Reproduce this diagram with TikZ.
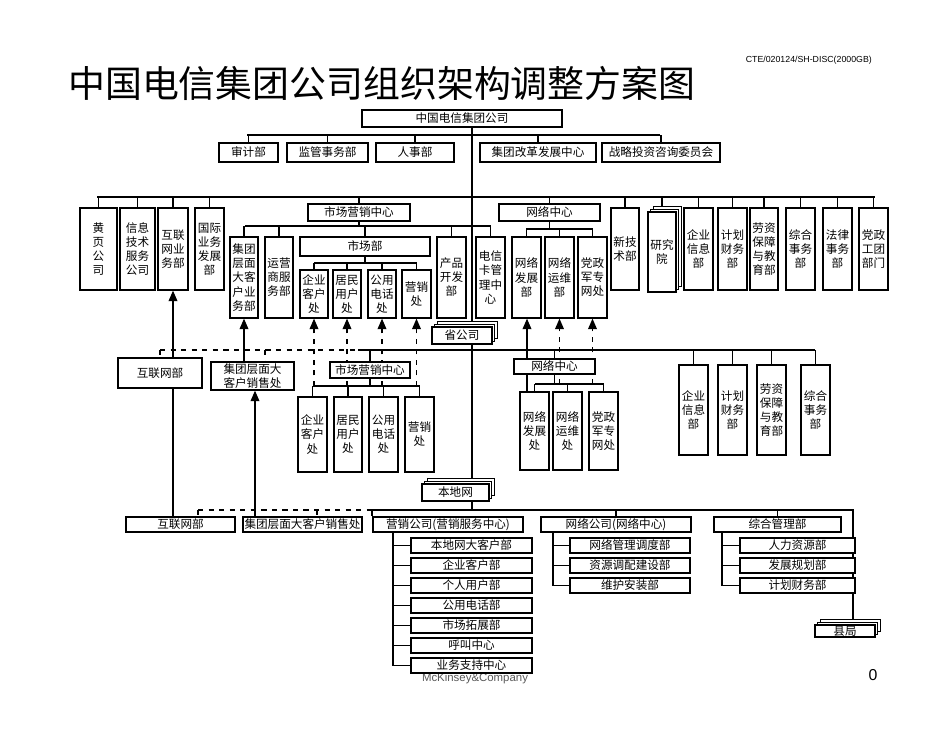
\documentclass[tikz,border=0pt]{standalone}
\usepackage{fontspec}
\setmainfont{Noto Sans CJK SC}
\newfontfamily\latinfont{Liberation Sans}
\usetikzlibrary{arrows.meta,shadows,backgrounds}

\tikzset{
  box/.style={draw,line width=0.7pt,fill=white,inner sep=0pt,align=center,
    font=\fontsize{6.6}{8}\selectfont},
  stack/.style={box,double copy shadow={shadow xshift=1.5pt,shadow yshift=1.5pt}},
  link/.style={line width=0.7pt},
  dlink/.style={line width=0.7pt,dashed},
  up/.style={line width=0.7pt,-{Triangle[length=6pt,width=5pt]}},
  dup/.style={up,dashed},
}
% box from its corners (x1,y1) to (x2,y2), in pixels of the reference
\newcommand{\bx}[7][box]{\node (#2) [#1,minimum width={((#5)-(#3))*0.02cm},minimum height={((#6)-(#4))*0.02cm}]
  at ({((#3)+(#5))/2},{((#4)+(#6))/2}) {#7};}

\begin{document}
\begin{tikzpicture}[x=0.02cm,y=-0.02cm]
\useasboundingbox (0,0) rectangle (950,735);

\node (title) [anchor=west,font=\fontsize{21}{24}\selectfont] at (62,83) {中国电信集团公司组织架构调整方案图};
\node (code) [anchor=east,font=\latinfont\fontsize{5}{6}\selectfont] at (878,60) {CTE/020124/SH-DISC(2000GB)};
\node (page) [font=\latinfont\fontsize{9}{10}\selectfont] at (873,675) {0};
\node (mck) [font=\fontsize{6.5}{7}\selectfont\latinfont,text=gray!70!black] at (475,679) {McKinsey\&Company};

% head office
\bx{jt}{362}{110}{562}{127}{中国电信集团公司}
\bx{sj}{219}{143}{278}{162}{审计部}
\bx{jg}{287}{143}{368}{162}{监管事务部}
\bx{rs}{376}{143}{454}{162}{人事部}
\bx{gg}{480}{143}{596}{162}{集团改革发展中心}
\bx{zl}{602}{143}{720}{162}{战略投资咨询委员会}

\bx{hy}{80}{208}{117}{290}{黄\\页\\公\\司}
\bx{xx}{120}{208}{155}{290}{信息\\技术\\服务\\公司}
\bx{hl}{158}{208}{188}{290}{互联\\网业\\务部}
\bx{gj}{195}{208}{224}{290}{国际\\业务\\发展\\部}

\bx{yx}{308}{204}{410}{221}{市场营销中心}
\bx{dk}{230}{237}{258}{318}{集团\\层面\\大客\\户业\\务部}
\bx{yy}{265}{237}{293}{318}{运营\\商服\\务部}
\bx{sc}{300}{237}{430}{256}{市场部}
\bx{qk}{300}{270}{328}{318}{企业\\客户\\处}
\bx{jm}{333}{270}{361}{318}{居民\\用户\\处}
\bx{gy}{368}{270}{396}{318}{公用\\电话\\处}
\bx{yxc}{402}{270}{431}{318}{营销\\处}
\bx{cp}{437}{237}{466}{318}{产品\\开发\\部}
\bx{dx}{476}{237}{505}{318}{电信\\卡管\\理中\\心}

\bx{wl}{499}{204}{600}{221}{网络中心}
\bx{wf}{512}{237}{541}{318}{网络\\发展\\部}
\bx{wy}{545}{237}{574}{318}{网络\\运维\\部}
\bx{dz}{578}{237}{607}{318}{党政\\军专\\网处}

\bx{xj}{611}{208}{639}{290}{新技\\术部}
\bx[stack]{yj}{648}{212}{676}{292}{研究\\院}
\bx{qx}{684}{208}{713}{290}{企业\\信息\\部}
\bx{jh}{718}{208}{747}{290}{计划\\财务\\部}
\bx{lz}{750}{208}{778}{290}{劳资\\保障\\与教\\育部}
\bx{zh}{786}{208}{815}{290}{综合\\事务\\部}
\bx{fl}{823}{208}{852}{290}{法律\\事务\\部}
\bx{dt}{859}{208}{888}{290}{党政\\工团\\部门}

% provincial company
\bx[stack]{sg}{432}{327}{492}{344}{省公司}
\bx{hl2}{118}{358}{202}{388}{互联网部}
\bx{dk2}{211}{362}{294}{390}{集团层面大\\客户销售处}
\bx{yx2}{330}{362}{410}{378}{市场营销中心}
\bx{qk2}{298}{397}{327}{472}{企业\\客户\\处}
\bx{jm2}{334}{397}{362}{472}{居民\\用户\\处}
\bx{gy2}{369}{397}{398}{472}{公用\\电话\\处}
\bx{yxc2}{405}{397}{434}{472}{营销\\处}
\bx{wl2}{514}{359}{595}{374}{网络中心}
\bx{wf2}{520}{392}{549}{470}{网络\\发展\\处}
\bx{wy2}{553}{392}{582}{470}{网络\\运维\\处}
\bx{dz2}{589}{392}{618}{470}{党政\\军专\\网处}
\bx{qx2}{679}{365}{708}{455}{企业\\信息\\部}
\bx{jh2}{718}{365}{747}{455}{计划\\财务\\部}
\bx{lz2}{757}{365}{786}{455}{劳资\\保障\\与教\\育部}
\bx{zh2}{801}{365}{830}{455}{综合\\事务\\部}

% local network
\bx[stack]{bd}{422}{484}{489}{501}{本地网}
\bx{hl3}{126}{517}{235}{532}{互联网部}
\bx{dk3}{243}{517}{362}{532}{集团层面大客户销售处}
\bx{yg}{373}{517}{523}{532}{营销公司(营销服务中心)}
\bx{wg}{541}{517}{691}{532}{网络公司(网络中心)}
\bx{zg}{714}{517}{841}{532}{综合管理部}
\foreach \n/\t [count=\i from 0] in {y1/本地网大客户部,y2/企业客户部,y3/个人用户部,y4/公用电话部,y5/市场拓展部,y6/呼叫中心,y7/业务支持中心}
  {\bx{\n}{411}{538+20*\i}{532}{553+20*\i}{\t}}
\foreach \n/\t [count=\i from 0] in {w1/网络管理调度部,w2/资源调配建设部,w3/维护安装部}
  {\bx{\n}{570}{538+20*\i}{690}{553+20*\i}{\t}}
\foreach \n/\t [count=\i from 0] in {z1/人力资源部,z2/发展规划部,z3/计划财务部}
  {\bx{\n}{740}{538+20*\i}{855}{553+20*\i}{\t}}
\bx[stack]{xjj}{815}{625}{875}{637}{县局}

\begin{scope}[on background layer]
% trunk
\coordinate (tk) at (472,127);
\draw[link] (tk) -- (tk |- bd.north);
% head office buses
\coordinate (b1l) at (247,135); \coordinate (b1r) at (660,135);
\draw[link] (b1l) -- (b1r);
\foreach \n in {sj,jg,rs,gg,zl} \draw[link] (\n.north) -- (\n.north |- b1l);
\coordinate (b2l) at (97,197); \coordinate (b2r) at (875,197);
\draw[link] (b2l) -- (b2r);
\foreach \n in {hy,xx,hl,gj,yx,wl,xj,yj,qx,jh,lz,zh,fl,dt} \draw[link] (\n.north) -- (\n.north |- b2l);
\coordinate (b3l) at (245,226); \coordinate (b3r) at (491,226);
\draw[link] (b3l) -- (b3r) (yx.south) -- (yx.south |- b3l);
\foreach \n in {dk,yy,sc,cp,dx} \draw[link] (\n.north) -- (\n.north |- b3l);
\coordinate (b4l) at (314,263); \coordinate (b4r) at (417,263);
\draw[link] (b4l) -- (b4r) (sc.south) -- (sc.south |- b4l);
\foreach \n in {qk,jm,gy,yxc} \draw[link] (\n.north) -- (\n.north |- b4l);
\coordinate (b5l) at (526,229); \coordinate (b5r) at (593,229);
\draw[link] (b5l) -- (b5r) (wl.south) -- (wl.south |- b5l);
\foreach \n in {wf,wy,dz} \draw[link] (\n.north) -- (\n.north |- b5l);
% provincial buses
\coordinate (p1d) at (160,350); \coordinate (p1l) at (358,350); \coordinate (p1r) at (815,350);
\draw[dlink] (p1d) -- (p1l) (p1d) -- (hl2.north -| p1d) (265,350) -- (dk2.north -| 265,0);
\draw[link] (p1l) -- (p1r);
\foreach \n in {yx2,wl2,qx2,jh2,lz2,zh2} \draw[link] (\n.north) -- (\n.north |- p1l);
\coordinate (p2l) at (313,386); \coordinate (p2r) at (420,386);
\draw[link] (p2l) -- (p2r) (yx2.south) -- (yx2.south |- p2l);
\foreach \n in {qk2,jm2,gy2,yxc2} \draw[link] (\n.north) -- (\n.north |- p2l);
\coordinate (p3l) at (535,384); \coordinate (p3r) at (604,384);
\draw[link] (p3l) -- (p3r) (wl2.south) -- (wl2.south |- p3l);
\foreach \n in {wf2,wy2,dz2} \draw[link] (\n.north) -- (\n.north |- p3l);
\foreach \n in {qk,jm,gy,yxc} \draw[dup] (\n.south |- p2l) -- (\n.south);
\draw[dup] (wy.south |- p3l) -- (wy.south);
\draw[dup] (dz.south |- p3l) -- (dz.south);
\draw[up] (wf2.north -| 527,0) -- (wf.south -| 527,0);
\draw[up] (hl3.north -| hl.south) -- (hl.south);
\draw[up] (dk2.north -| dk.south) -- (dk.south);
\draw[up] (dk3.north -| 255,0) -- (dk2.south -| 255,0);
% local buses
\coordinate (l1d) at (198,510); \coordinate (l1l) at (372,510); \coordinate (l1r) at (853,510);
\draw[dlink] (l1d) -- (l1l) (l1d) -- (hl3.north -| l1d) (317,510) -- (dk3.north -| 317,0);
\draw[link] (l1l) -- (l1r) -- (xjj.north -| l1r) (bd.south -| tk) -- (tk |- l1l);
\draw[link] (l1l) -- (yg.north -| l1l);
\foreach \n in {wg,zg} \draw[link] (\n.north) -- (\n.north |- l1l);
\draw[link] (yg.south -| 393,0) -- (y7.west -| 393,0);
\foreach \n in {y1,y2,y3,y4,y5,y6,y7} \draw[link] (\n.west -| 393,0) -- (\n.west);
\draw[link] (wg.south -| 553,0) -- (w3.west -| 553,0);
\foreach \n in {w1,w2,w3} \draw[link] (\n.west -| 553,0) -- (\n.west);
\draw[link] (zg.south -| 722,0) -- (z3.west -| 722,0);
\foreach \n in {z1,z2,z3} \draw[link] (\n.west -| 722,0) -- (\n.west);
\end{scope}
\end{tikzpicture}
\end{document}
